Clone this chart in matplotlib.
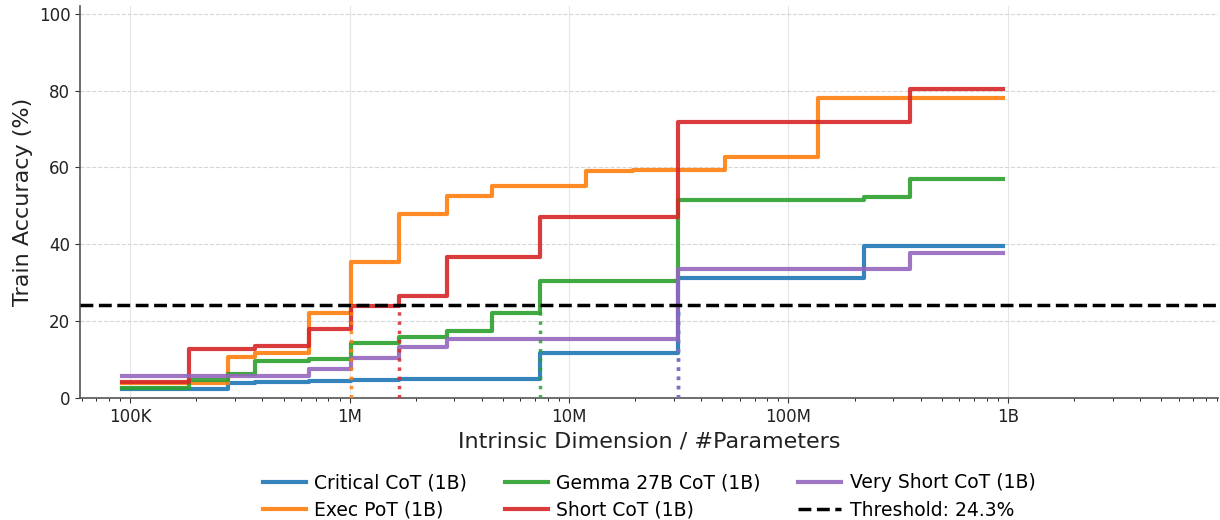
import matplotlib
matplotlib.use('Agg')
import matplotlib.pyplot as plt
from matplotlib.ticker import FixedLocator, FuncFormatter
import numpy as np

# intrinsic dimension points (step edges)
dims = [92e3, 185e3, 278e3, 371e3, 650e3, 1.01e6, 1.67e6, 2.79e6, 4.47e6,
        7.34e6, 11.9e6, 19.5e6, 31.4e6, 51.6e6, 136e6, 220e6, 359e6, 953e6]

critical_cot = [2.2, 2.2, 3.75, 4.2, 4.4, 4.6, 4.9, 4.9, 4.9, 11.6, 11.6, 11.6,
                31.2, 31.2, 31.2, 39.6, 39.6]
exec_pot = [3.9, 3.9, 10.5, 11.6, 22.0, 35.3, 47.9, 52.6, 55.2, 55.2, 59.0, 59.4,
            59.4, 62.6, 78.2, 78.2, 78.2]
gemma_cot = [2.5, 4.6, 6.3, 9.65, 10.0, 14.2, 15.9, 17.3, 22.0, 30.5, 30.5, 30.5,
             51.6, 51.6, 51.6, 52.2, 57.0]
short_cot = [4.2, 12.6, 12.6, 13.5, 17.8, 23.9, 26.5, 36.6, 36.6, 47.0, 47.0, 47.0,
             71.8, 71.8, 71.8, 71.8, 80.5]
very_short_cot = [5.6, 5.6, 5.6, 5.6, 7.4, 10.3, 13.3, 15.2, 15.2, 15.3, 15.3, 15.3,
                  33.6, 33.6, 33.6, 33.6, 37.7]

labels = ['Critical CoT (1B)', 'Exec PoT (1B)', 'Gemma 27B CoT (1B)',
          'Short CoT (1B)', 'Very Short CoT (1B)']
threshold = 24.3

series = [critical_cot, exec_pot, gemma_cot, short_cot, very_short_cot]
colors = ['#1f77b4', '#ff7f0e', '#2ca02c', '#d62728', '#9467bd']

fig = plt.figure(figsize=(12.2, 5.2), dpi=100)
ax = fig.add_axes([0.0656, 0.235, 0.933, 0.753])

for vals, lab, col in zip(series, labels, colors):
    y = list(vals) + [vals[-1]]
    ax.plot(dims, y, drawstyle='steps-post', color=col, lw=3, alpha=0.9, label=lab, zorder=3)

# where each run first crosses the threshold
for vals, col in zip(series, colors):
    for d, v in zip(dims, vals):
        if v >= threshold:
            ax.plot([d, d], [0, threshold], color=col, ls=':', lw=2.5, alpha=0.85, zorder=4)
            break

ax.axhline(threshold, color='black', ls='--', lw=2.5, label=f'Threshold: {threshold}%', zorder=5)

ax.set_xscale('log')
ax.set_xlim(5.9e4, 9.1e9)
ax.set_ylim(0, 102)
ax.set_yticks([0, 20, 40, 60, 80, 100])

def fmt(x, pos):
    if x >= 1e9:
        return f'{x / 1e9:.0f}B'
    if x >= 1e6:
        return f'{x / 1e6:.0f}M'
    return f'{x / 1e3:.0f}K'

ax.xaxis.set_major_locator(FixedLocator([1e5, 1e6, 1e7, 1e8, 1e9]))
ax.xaxis.set_major_formatter(FuncFormatter(fmt))
ax.tick_params(axis='both', labelsize=12, colors='#333333', labelcolor='#222222')

ax.grid(axis='y', ls='--', color='#cccccc', lw=0.8, alpha=0.8)
ax.grid(axis='x', which='major', color='#e6e6e6', lw=0.8)
ax.set_axisbelow(True)

for s in ['top', 'right']:
    ax.spines[s].set_visible(False)
for s in ['left', 'bottom']:
    ax.spines[s].set_color('#555555')
    ax.spines[s].set_linewidth(1.2)

ax.set_xlabel('Intrinsic Dimension / #Parameters', fontsize=16, color='#222222')
ax.set_ylabel('Train Accuracy (%)', fontsize=16, color='#222222')

ax.legend(loc='upper center', bbox_to_anchor=(0.5, -0.15), ncol=3, frameon=False,
          fontsize=13.5, columnspacing=2.0, handlelength=2.3, handletextpad=0.45,
          labelspacing=0.45)

fig.savefig('out.png', dpi=100)
